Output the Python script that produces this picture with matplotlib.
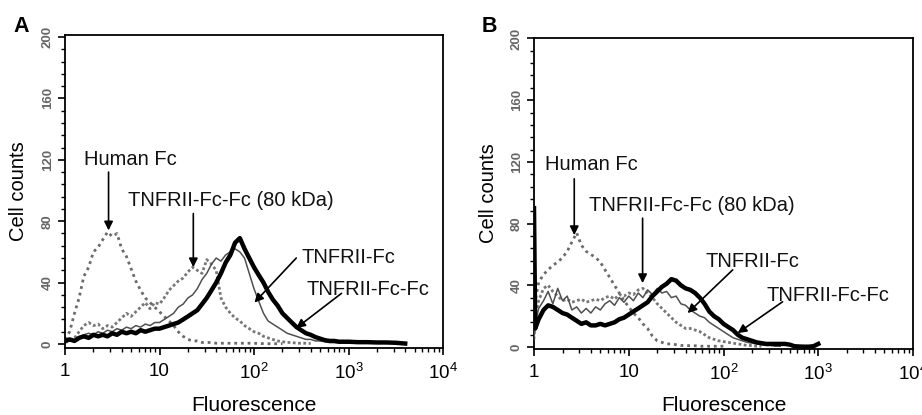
import numpy as np
import matplotlib
matplotlib.use("Agg")
import matplotlib.pyplot as plt
from matplotlib.ticker import FixedLocator, LogLocator, MultipleLocator, NullFormatter

plt.rcParams['font.family'] = ['Liberation Sans', 'DejaVu Sans']
plt.rcParams['mathtext.fontset'] = 'custom'
plt.rcParams['mathtext.rm'] = 'Liberation Sans'

# ---------------- data ----------------
x_a = [1, 1.12, 1.26, 1.41, 1.58, 1.78, 2.0, 2.24, 2.51, 2.82,
       3.16, 3.55, 3.98, 4.47, 5.01, 5.62, 6.31, 7.08, 7.94, 8.91,
       10, 11.2, 12.6, 14.1, 15.8, 17.8, 20, 22.4, 25.1, 28.2,
       31.6, 35.5, 39.8, 44.7, 50.1, 56.2, 63.1, 70.8, 79.4, 89.1,
       100, 112, 126, 141, 158, 178, 200, 224, 251, 282,
       316, 355, 398, 447, 501, 562, 631, 708, 794, 891,
       1000, 1260, 1580, 2000, 2510, 3160, 3980, 5010, 6310, 7940, 10000]

a_human = [3, 8, 20, 30, 44, 50, 60, 63, 68, 73,
           70, 72, 62, 57, 49, 41, 35, 30, 27, 24,
           21, 18, 15, 12, 8, 5, 3, 2, 2, 1,
           1, 1, 0.5, 0.5, 0.5, 0.5, 0.5, 0.5, 0.5, 0.5,
           0.5, 0.3, 0.3, 0.2, 0.2, 0.2, 0.2] + [None] * 24

a_80kda = [1, 2, 4, 8, 12, 14, 12, 13, 10, 12,
           11, 14, 17, 20, 18, 21, 24, 27, 23, 27,
           26, 30, 35, 38, 41, 43, 47, 50, 48, 46,
           55, 52, 48, 30, 24, 20, 17, 15, 12, 10,
           8, 7, 5, 4, 3, 2, 1.5, 1, 1, 0.5,
           0.5, 0.5, 0.3] + [None] * 18

a_fc = [1, 2, 3, 4, 6, 7, 6, 8, 7, 9,
        8, 10, 9, 11, 10, 12, 11, 13, 12, 14,
        14, 16, 18, 20, 24, 26, 30, 32, 36, 42,
        46, 52, 56, 54, 58, 60, 62, 60, 56, 46,
        36, 28, 20, 15, 13, 11, 9, 7, 6, 5,
        4, 3, 3, 2, 2, 1.5, 1, 1, 0.8, 0.6,
        0.5] + [None] * 10

a_fcfc = [2, 3, 2, 4, 5, 4, 6, 5, 6, 5,
          7, 6, 8, 7, 8, 7, 9, 8, 9, 10,
          10, 11, 12, 13, 14, 16, 18, 20, 22, 26,
          30, 35, 40, 46, 53, 58, 66, 69, 62, 56,
          50, 45, 40, 34, 29, 25, 20, 17, 14, 11,
          9, 7, 6, 4.5, 3.5, 2.5, 2, 2, 1.5, 1.5,
          1.5, 1.2, 1.2, 1, 1, 0.8, 0.3, None, None, None, None]

x_b = [1, 1.03, 1.12, 1.26, 1.41, 1.58, 1.78, 2.0, 2.24, 2.51, 2.82,
       3.16, 3.55, 3.98, 4.47, 5.01, 5.62, 6.31, 7.08, 7.94, 8.91,
       10, 11.2, 12.6, 14.1, 15.8, 17.8, 20, 22.4, 25.1, 28.2,
       31.6, 35.5, 39.8, 44.7, 50.1, 56.2, 63.1, 70.8, 79.4, 89.1,
       100, 112, 126, 141, 158, 178, 200, 224, 251, 282,
       316, 355, 398, 447, 501, 562, 631, 708, 794, 891,
       1000, 1260, 1580, 2000, 2510, 3160, 3980, 5010, 6310, 7940, 10000]

b_human = [10, 30, 42, 47, 50, 53, 55, 58, 62, 68, 74,
           66, 62, 60, 58, 55, 50, 45, 40, 35, 30,
           26, 22, 19, 15, 12, 7, 4, 3, 2, 2,
           1.5, 1, 1, 0.8, 0.8, 0.5, 0.5, 0.5, 0.5, 0.5,
           0.5] + [None] * 30

b_80kda = [5, 20, 30, 38, 40, 36, 33, 30, 31, 29, 30,
           31, 29, 30, 31, 30, 32, 33, 31, 34, 33,
           35, 34, 37, 38, 35, 32, 28, 25, 22, 19,
           16, 14, 12, 12, 11, 10, 8, 6, 5, 4,
           3.5, 3, 2.5, 2, 1.5, 1, 1, 0.5, 0.5] + [None] * 22

b_fc = [5, 15, 25, 30, 36, 28, 38, 30, 33, 24, 26,
        22, 25, 22, 26, 24, 28, 30, 27, 32, 29,
        33, 30, 35, 32, 37, 34, 38, 35, 36, 32,
        33, 28, 27, 24, 22, 20, 19, 16, 14, 12,
        10, 8, 6, 5, 4, 3, 2.5, 2, 1.5, 1,
        1, 0.5, 0.5] + [None] * 18

b_fcfc = [90, 12, 18, 24, 27, 26, 24, 22, 21, 19, 17,
          15, 16, 14, 14, 15, 14, 15, 16, 18, 19,
          21, 23, 25, 27, 29, 33, 36, 39, 41, 44,
          43, 40, 38, 37, 35, 32, 28, 23, 20, 18,
          15, 13, 11, 8, 6, 5, 4, 3, 2.5, 2,
          2, 2, 2, 2, 1.5, 0.5, 0.3, 0.2, 0.2, 0.5,
          2] + [None] * 10

x_ticks = [1, 10, 100, 1000, 10000]
x_ticklabels = ['1', '10', r'$\mathregular{10^2}$', r'$\mathregular{10^3}$', r'$\mathregular{10^4}$']
y_ticks = [0, 40, 80, 120, 160, 200]
y_ticklabels = ['0', '40', '80', '120', '160', '200']

label_names = ['Human Fc', 'TNFRII-Fc-Fc (80 kDa)', 'TNFRII-Fc', 'TNFRII-Fc-Fc']

# annotation geometry (text position, arrow start, arrow tip) in data coords
ann_a = [((1.59, 116.6), (2.89, 112), (2.89, 74)),
         ((4.68, 90), (22.8, 85), (22.8, 50)),
         ((316, 52.6), (280, 56), (101, 27)),
         ((357, 31.9), (843, 33), (280, 10.4))]
ann_b = [((1.31, 114.6), (2.66, 109), (2.66, 72.5)),
         ((3.8, 88.2), (14, 83.5), (14, 41.4)),
         ((65.2, 52), (125, 50), (41.8, 22)),
         ((287, 29.8), (420, 29.3), (141, 9))]

# ---------------- figure ----------------
fig = plt.figure(figsize=(9.22, 4.15), dpi=100)
W, H = 922, 415

def px_axes(l, r, t, b):
    return [l / W, 1 - b / H, (r - l) / W, (b - t) / H]

ax_a = fig.add_axes(px_axes(65, 443, 35, 348))
ax_b = fig.add_axes(px_axes(534, 913, 38, 349))

def style(ax, ylim):
    ax.set_xscale('log')
    ax.set_xlim(1, 10000)
    ax.set_ylim(*ylim)
    for s in ax.spines.values():
        s.set_linewidth(1.3)
    ax.xaxis.set_major_locator(FixedLocator(x_ticks))
    ax.set_xticklabels(x_ticklabels)
    ax.xaxis.set_minor_locator(LogLocator(base=10, subs=np.arange(2, 10)))
    ax.xaxis.set_minor_formatter(NullFormatter())
    ax.yaxis.set_major_locator(FixedLocator(y_ticks))
    ax.set_yticklabels(y_ticklabels)
    ax.yaxis.set_minor_locator(MultipleLocator(8))
    ax.tick_params(axis='x', which='major', direction='out', length=5, width=1.2,
                   labelsize=13.5, pad=6)
    ax.tick_params(axis='x', which='minor', direction='out', length=3, width=1.0)
    ax.tick_params(axis='y', which='major', direction='out', length=5, width=1.2,
                   labelsize=9.5, pad=3, labelcolor='#666666', labelrotation=90)
    ax.tick_params(axis='y', which='minor', direction='out', length=3, width=1.0)
    for lab in ax.get_yticklabels():
        lab.set_va('center')
        lab.set_fontweight('bold')

def draw(ax, x, human, k80, fc, fcfc):
    x = np.array(x, dtype=float)
    ax.plot(x, np.array(human, dtype=float), color='#6a6a6a', lw=2.0,
            linestyle=(0, (1, 1.4)), zorder=2)
    ax.plot(x, np.array(k80, dtype=float), color='#777777', lw=2.0,
            linestyle=(0, (1, 0.9)), zorder=2)
    ax.plot(x, np.array(fc, dtype=float), color='#505050', lw=1.1, zorder=3)
    ax.plot(x, np.array(fcfc, dtype=float), color='black', lw=3.2, zorder=4)

def annotate(ax, anns):
    for name, (tpos, start, tip) in zip(label_names, anns):
        ax.text(tpos[0], tpos[1], name, fontsize=14.5, ha='left', va='baseline',
                color='#111111', zorder=6)
        ax.annotate('', xy=tip, xytext=start,
                    arrowprops=dict(arrowstyle='-|>', color='black', lw=1.2,
                                    mutation_scale=13, shrinkA=0, shrinkB=0),
                    zorder=6)

style(ax_a, (-2.6, 201.3))
style(ax_b, (-1.3, 200.3))
draw(ax_a, x_a, a_human, a_80kda, a_fc, a_fcfc)
draw(ax_b, x_b, b_human, b_80kda, b_fc, b_fcfc)
annotate(ax_a, ann_a)
annotate(ax_b, ann_b)

# axis labels
fig.text(18 / W, 1 - 191 / H, 'Cell counts', rotation=90, fontsize=14.5, ha='center', va='center')
fig.text(488 / W, 1 - 193 / H, 'Cell counts', rotation=90, fontsize=14.5, ha='center', va='center')
fig.text(254 / W, 1 - 405 / H, 'Fluorescence', fontsize=15, ha='center', va='center')
fig.text(724 / W, 1 - 405 / H, 'Fluorescence', fontsize=15, ha='center', va='center')

# panel letters
fig.text(13 / W, 1 - 26 / H, 'A', fontsize=15.5, fontweight='bold', ha='left', va='center')
fig.text(482 / W, 1 - 26 / H, 'B', fontsize=15.5, fontweight='bold', ha='left', va='center')

fig.savefig('out.png', dpi=100)
